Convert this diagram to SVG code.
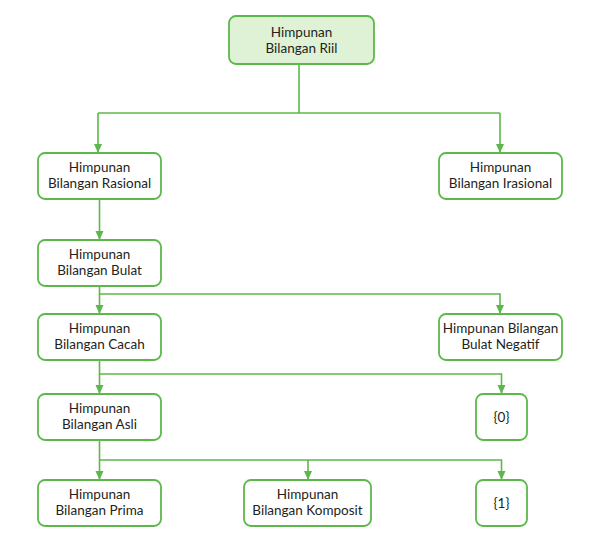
<svg xmlns="http://www.w3.org/2000/svg" width="590" height="559" viewBox="0 0 590 559">
<style>
.box{fill:#ffffff;stroke:#5cb84a;stroke-width:1.8}
.root{fill:#dff2d5;stroke:#5cb84a;stroke-width:1.8}
.t{font-family:Lato,"Liberation Sans",sans-serif;font-size:13.5px;fill:#231f20;text-anchor:middle}
.c{fill:none;stroke:#5cb84a;stroke-width:1.6}
</style>
<defs>
<marker id="ah" markerUnits="userSpaceOnUse" markerWidth="10" markerHeight="10" refX="9" refY="5" orient="auto">
<path d="M0,1 L9,5 L0,9 Z" fill="#5cb84a"/>
</marker>
</defs>
<rect width="590" height="559" fill="#ffffff"/>
<g id="connectors">
<path class="c" d="M299 64 V113"/>
<path class="c" d="M98 113 H500"/>
<path class="c" d="M98 113 V153" marker-end="url(#ah)"/>
<path class="c" d="M500 113 V153" marker-end="url(#ah)"/>
<path class="c" d="M99.5 199 V240" marker-end="url(#ah)"/>
<path class="c" d="M99.5 286 V314" marker-end="url(#ah)"/>
<path class="c" d="M99.5 294 H500 V314" marker-end="url(#ah)"/>
<path class="c" d="M99.5 360 V394" marker-end="url(#ah)"/>
<path class="c" d="M99.5 374 H501.5 V394" marker-end="url(#ah)"/>
<path class="c" d="M99.5 440 V480" marker-end="url(#ah)"/>
<path class="c" d="M99.5 460 H501.5 V480" marker-end="url(#ah)"/>
<path class="c" d="M308 460 V480" marker-end="url(#ah)"/>
</g>
<g id="riil"><rect class="root" x="229" y="16" width="145" height="48" rx="7"/><text class="t" x="301.5" y="37">Himpunan</text><text class="t" x="301.5" y="53">Bilangan Riil</text></g>
<g id="rasional"><rect class="box" x="38" y="153" width="123" height="46" rx="7"/><text class="t" x="99.5" y="171.5">Himpunan</text><text class="t" x="99.5" y="187.5">Bilangan Rasional</text></g>
<g id="irasional"><rect class="box" x="439" y="153" width="123" height="46" rx="7"/><text class="t" x="500.5" y="171.5">Himpunan</text><text class="t" x="500.5" y="187.5">Bilangan Irasional</text></g>
<g id="bulat"><rect class="box" x="38" y="240" width="123" height="46" rx="7"/><text class="t" x="99.5" y="258.5">Himpunan</text><text class="t" x="99.5" y="274.5">Bilangan Bulat</text></g>
<g id="cacah"><rect class="box" x="38" y="314" width="123" height="46" rx="7"/><text class="t" x="99.5" y="332.5">Himpunan</text><text class="t" x="99.5" y="348.5">Bilangan Cacah</text></g>
<g id="negatif"><rect class="box" x="439" y="314" width="123" height="46" rx="7"/><text class="t" x="500.5" y="332.5">Himpunan Bilangan</text><text class="t" x="500.5" y="348.5">Bulat Negatif</text></g>
<g id="asli"><rect class="box" x="38" y="394" width="123" height="46" rx="7"/><text class="t" x="99.5" y="412.5">Himpunan</text><text class="t" x="99.5" y="428.5">Bilangan Asli</text></g>
<g id="nol"><rect class="box" x="476" y="394" width="51" height="46" rx="7"/><text class="t" x="501.5" y="421.5">{0}</text></g>
<g id="prima"><rect class="box" x="38" y="480" width="123" height="46" rx="7"/><text class="t" x="99.5" y="498.5">Himpunan</text><text class="t" x="99.5" y="514.5">Bilangan Prima</text></g>
<g id="komposit"><rect class="box" x="244" y="480" width="127" height="46" rx="7"/><text class="t" x="307.5" y="498.5">Himpunan</text><text class="t" x="307.5" y="514.5">Bilangan Komposit</text></g>
<g id="satu"><rect class="box" x="476" y="480" width="51" height="46" rx="7"/><text class="t" x="501.5" y="507.5">{1}</text></g>
</svg>
